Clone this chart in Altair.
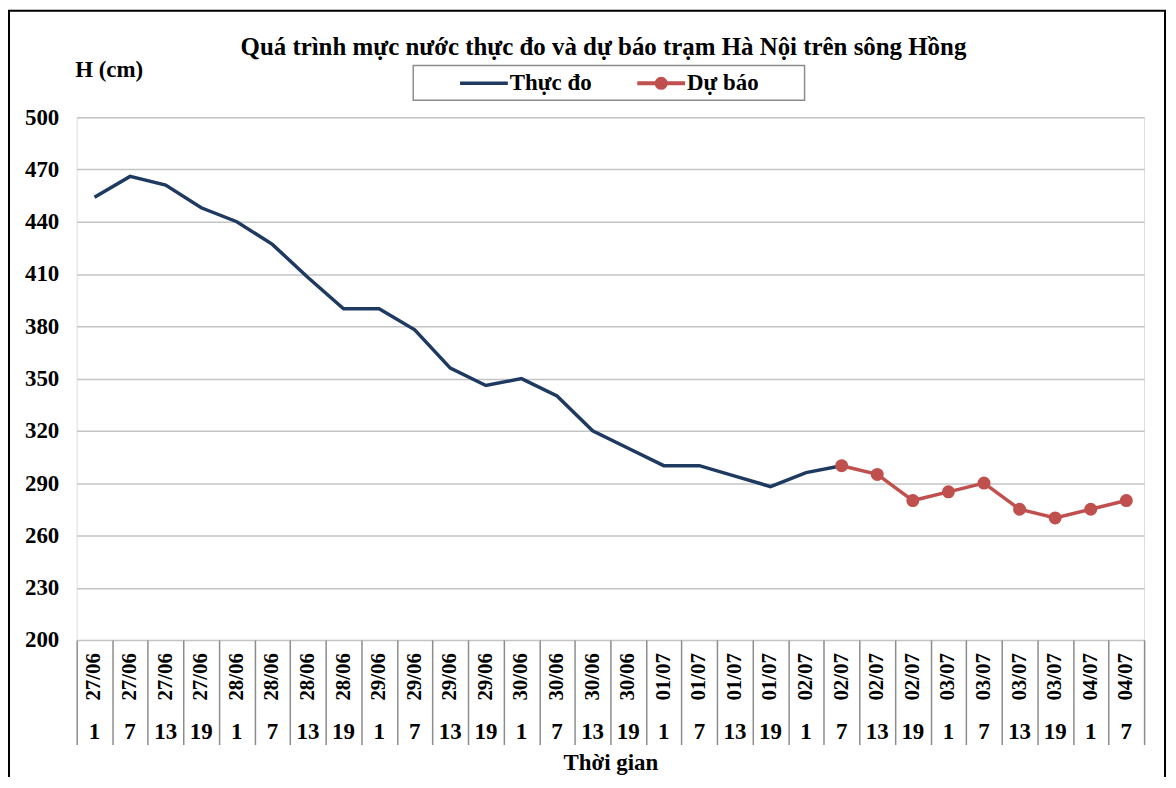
import altair as alt
import pandas as pd

# ---- data -------------------------------------------------------------
days = ["27/06", "28/06", "29/06", "30/06", "01/07", "02/07", "03/07", "04/07"]
hours = ["1", "7", "13", "19"]
dates = [d for d in days[:-1] for _ in hours] + ["04/07", "04/07"]
hour_labels = hours * 7 + ["1", "7"]

measured = [454, 466, 461, 448, 440, 427, 408, 390, 390, 378, 356, 346,
            350, 340, 320, 310, 300, 300, 294, 288, 296, 300]
forecast = [300, 295, 280, 285, 290, 275, 270, 275, 280]
forecast_start = 21  # index of "02/07 7"

series_names = ["Thực đo", "Dự báo"]
title_text = "Quá trình mực nước thực đo và dự báo trạm Hà Nội trên sông Hồng"
y_title = "H (cm)"
x_title = "Thời gian"
y_ticks = list(range(200, 501, 30))

cat = pd.DataFrame({"idx": list(range(len(dates))), "date": dates, "hour": hour_labels})
rows = [{"idx": i, "H": v, "series": series_names[0]} for i, v in enumerate(measured)]
rows += [{"idx": forecast_start + i, "H": v, "series": series_names[1]} for i, v in enumerate(forecast)]
df = pd.DataFrame(rows)

FONT = "Liberation Serif"
NAVY = "#1F3A60"
RED = "#C0504D"
GRAY = "#8C8C8C"
N = len(dates)
FS = 23

x_scale = alt.Scale(domain=[0, N], nice=False, zero=False)
y_scale = alt.Scale(domain=[200, 500], nice=False, zero=False)
color_scale = alt.Scale(domain=series_names, range=[NAVY, RED])

x_axis = alt.Axis(values=list(range(N + 1)), labels=False, grid=False, domain=False,
                  tickSize=105, tickColor=GRAY, tickWidth=1.5,
                  title=x_title, titleY=123, titleBaseline="middle",
                  titleFont=FONT, titleFontSize=FS, titleFontWeight="bold", titleColor="black")
y_axis = alt.Axis(values=y_ticks, grid=True, gridColor="#C4C4C4", gridWidth=1.5,
                  domain=False, ticks=False, labelPadding=18,
                  labelFont=FONT, labelFontSize=FS, labelFontWeight="bold", labelColor="black",
                  title=y_title, titleAngle=0, titleX=-2, titleY=-48,
                  titleAlign="left", titleBaseline="middle",
                  titleFont=FONT, titleFontSize=FS, titleFontWeight="bold", titleColor="black")

X = alt.X("pos:Q", scale=x_scale, axis=x_axis)
Y = alt.Y("H:Q", scale=y_scale, axis=y_axis)

base = alt.Chart(df).transform_calculate(pos="datum.idx + 0.5")

lines = base.mark_line(strokeWidth=3.5).encode(
    x=X, y=Y,
    color=alt.Color("series:N", scale=color_scale, legend=None),
    detail="series:N",
)

points = base.transform_filter(alt.datum.series == series_names[1]).mark_circle(
    size=170, opacity=1).encode(
    x=X, y=Y,
    color=alt.Color("series:N", scale=color_scale, legend=None),
)

cat_base = alt.Chart(cat).transform_calculate(pos="datum.idx + 0.5")
date_text = cat_base.mark_text(angle=270, font=FONT, fontSize=21, fontWeight="bold",
                               color="black", align="center", baseline="middle").encode(
    x=X, y=alt.value(562), text="date:N",
)
hour_text = cat_base.mark_text(font=FONT, fontSize=FS, fontWeight="bold",
                               color="black", align="center", baseline="middle").encode(
    x=X, y=alt.value(617), text="hour:N",
)

one = pd.DataFrame({"k": [0]})
frame = alt.Chart(one).mark_rect(fillOpacity=0, stroke="black", strokeWidth=2).encode(
    x=alt.value(-68), x2=alt.value(1093), y=alt.value(-107), y2=alt.value(720))

title = alt.Chart(one).mark_text(text=title_text, font=FONT, fontSize=25, fontWeight="bold",
                                 color="black", align="center", baseline="middle").encode(
    x=alt.value(529), y=alt.value(-70))

legend_box = alt.Chart(one).mark_rect(fill="white", stroke=GRAY, strokeWidth=1.5).encode(
    x=alt.value(338), x2=alt.value(731), y=alt.value(-52), y2=alt.value(-17))
leg_line1 = alt.Chart(one).mark_rule(color=NAVY, strokeWidth=3.5).encode(
    x=alt.value(385), x2=alt.value(433), y=alt.value(-34))
leg_text1 = alt.Chart(one).mark_text(text=series_names[0], font=FONT, fontSize=FS, fontWeight="bold",
                                     color="black", align="left", baseline="middle").encode(
    x=alt.value(435), y=alt.value(-34))
leg_line2 = alt.Chart(one).mark_rule(color=RED, strokeWidth=4).encode(
    x=alt.value(563), x2=alt.value(611), y=alt.value(-34))
leg_pt2 = alt.Chart(one).mark_circle(color=RED, size=170, opacity=1).encode(
    x=alt.value(587), y=alt.value(-34))
leg_text2 = alt.Chart(one).mark_text(text=series_names[1], font=FONT, fontSize=FS, fontWeight="bold",
                                     color="black", align="left", baseline="middle").encode(
    x=alt.value(613), y=alt.value(-34))

chart = alt.layer(
    lines, points, date_text, hour_text, frame, title,
    legend_box, leg_line1, leg_text1, leg_line2, leg_pt2, leg_text2,
).properties(
    width=1072, height=525,
    padding={"left": 69, "top": 108, "right": 24, "bottom": 136},
    autosize=alt.AutoSizeParams(type="none"),
).configure_view(
    stroke=GRAY, strokeWidth=1.5
).configure(background="white")

chart.save("out.html", embed_options={"renderer": "svg", "actions": False})
